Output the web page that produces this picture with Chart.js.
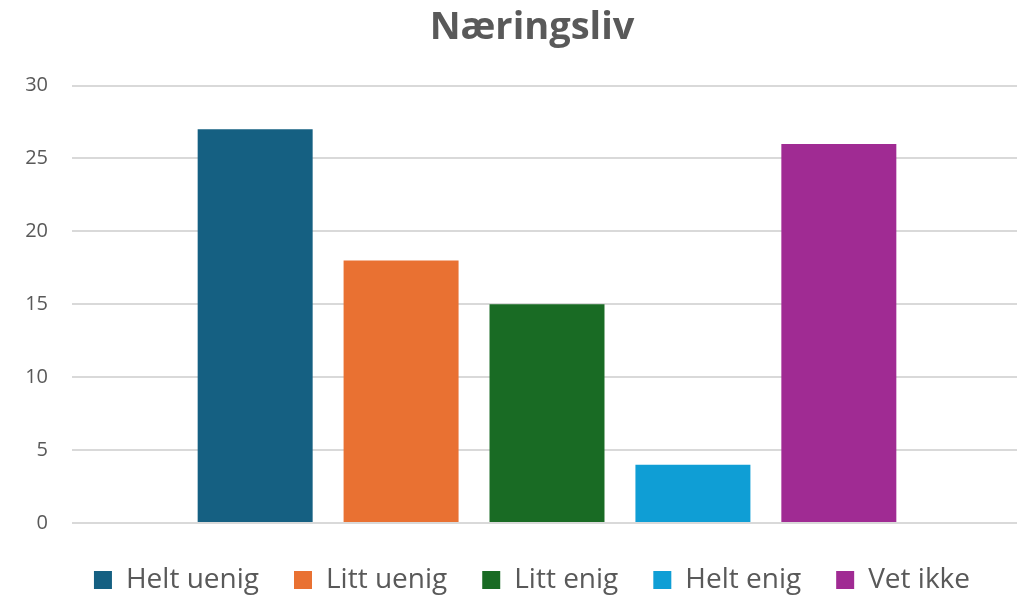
<!DOCTYPE html>
<html>
<head>
<meta charset="utf-8">
<script src="https://cdn.jsdelivr.net/npm/chart.js@4"></script>
<style>
  body { margin: 0; background: #fff; overflow: hidden; }
  #wrap { width: 1060px; height: 596px; }
</style>
</head>
<body>
<div id="wrap"><canvas id="chart"></canvas></div>
<script>
const chartTitle = 'Næringsliv';
const seriesNames = ['Helt uenig', 'Litt uenig', 'Litt enig', 'Helt enig', 'Vet ikke'];
const seriesValues = [27, 18, 15, 4, 26];
const seriesColors = ['#156082', '#E97132', '#196B24', '#0F9ED5', '#A02B93'];
const yTicks = [0, 5, 10, 15, 20, 25, 30];

const textColor = '#595959';
const fontFamily = '"Open Sans", "Liberation Sans", sans-serif';

const datasets = seriesNames.map((name, i) => ({
  label: name,
  data: [seriesValues[i]],
  backgroundColor: seriesColors[i],
  borderWidth: 0,
  categoryPercentage: 0.768,
  barPercentage: 0.788
}));

// the original picture is cropped on the right, so the canvas is a bit wider than the window
new Chart(document.getElementById('chart'), {
  type: 'bar',
  data: { labels: [''], datasets: datasets },
  options: {
    responsive: true,
    maintainAspectRatio: false,
    animation: false,
    layout: { padding: { left: 42, right: 38, top: 5, bottom: -8 } },
    plugins: {
      title: {
        display: true,
        text: chartTitle,
        color: textColor,
        font: { family: fontFamily, size: 38, weight: 'bold' },
        padding: { top: 0, bottom: 35 }
      },
      legend: {
        position: 'bottom',
        labels: {
          color: textColor,
          font: { family: fontFamily, size: 28 },
          boxWidth: 18,
          boxHeight: 18,
          padding: 35
        }
      },
      tooltip: { enabled: false }
    },
    scales: {
      x: {
        grid: { display: false },
        border: { display: false },
        ticks: { display: false }
      },
      y: {
        min: yTicks[0],
        max: yTicks[yTicks.length - 1],
        afterFit: (scale) => {
          scale.width = 30;
          // labels hang out into the left padding, so don't clip them to the axis box
          scale._computeLabelArea = () => undefined;
        },
        afterBuildTicks: (scale) => { scale.ticks = yTicks.map(v => ({ value: v })); },
        grid: { color: '#d9d9d9', lineWidth: 2, drawTicks: false },
        border: { display: false },
        ticks: {
          color: textColor,
          font: { family: fontFamily, size: 20 },
          padding: 24
        }
      }
    }
  }
});
</script>
</body>
</html>
